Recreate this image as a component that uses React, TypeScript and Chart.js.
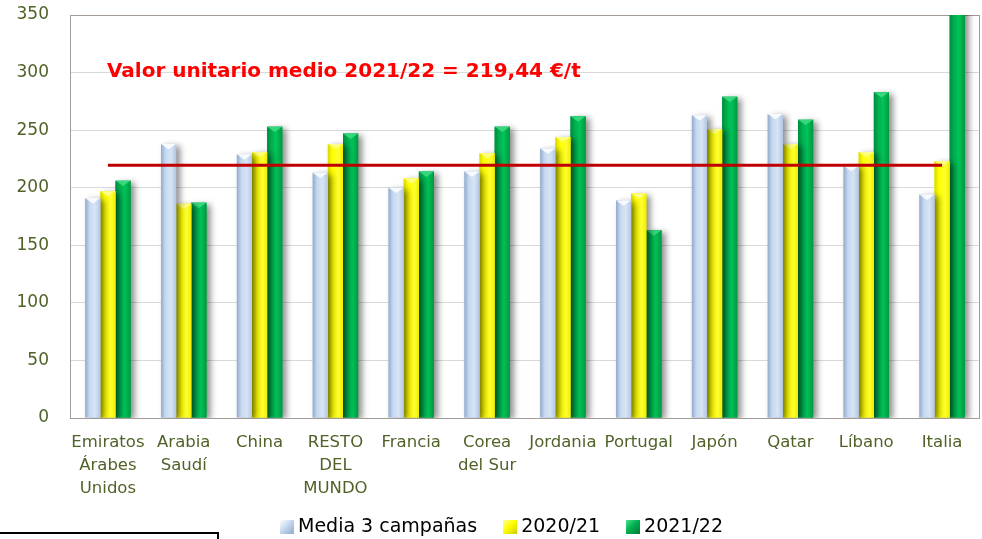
import React, { useEffect, useRef } from "react";
import { Chart, registerables } from "chart.js";

Chart.register(...registerables);

const categories: (string | string[])[] = [
  ["Emiratos", "Árabes", "Unidos"],
  ["Arabia", "Saudí"],
  "China",
  ["RESTO", "DEL", "MUNDO"],
  "Francia",
  ["Corea", "del Sur"],
  "Jordania",
  "Portugal",
  "Japón",
  "Qatar",
  "Líbano",
  "Italia",
];
const seriesNames = ["Media 3 campañas", "2020/21", "2021/22"];
const media3 = [191, 238, 229, 213, 200, 214, 234, 189, 263, 264, 219, 194];
const c2020 = [197, 186, 231, 238, 208, 230, 244, 195, 251, 238, 231, 223];
const c2021 = [206, 187, 253, 247, 214, 253, 262, 163, 279, 259, 283, 420];
const avgLine = [219.44, 219.44, 219.44, 219.44, 219.44, 219.44, 219.44, 219.44, 219.44, 219.44, 219.44, 219.44];
const avgTitle = "Valor unitario medio 2021/22 = 219,44 €/t";
const yMin = 0;
const yMax = 350;
const yStep = 50;

const FONT = "'DejaVu Sans', Verdana, sans-serif";
const AXIS_COLOR = "#4F6228";

const barStyles = [
  { solid: "#C6D9F1", stops: [[0, "#93AACB"], [0.3, "#C6D9F1"], [0.65, "#D8E4F4"], [1, "#B3C7E2"]], cap: "#FFFFFF" },
  { solid: "#FFFF00", stops: [[0, "#D8D800"], [0.3, "#FFFF00"], [0.7, "#FFFF30"], [1, "#EEEE00"]], cap: "#FFFF90" },
  { solid: "#00B050", stops: [[0, "#008A3E"], [0.3, "#00B050"], [0.6, "#00C45A"], [1, "#00983F"]], cap: "#3FDC85" },
];

const fxPlugin = {
  id: "fx",
  beforeDatasetsDraw(chart: any) {
    const { ctx, chartArea: a } = chart;
    ctx.save();
    ctx.strokeStyle = "#A39C96";
    ctx.lineWidth = 1;
    ctx.strokeRect(Math.round(a.left) + 0.5, Math.round(a.top) + 0.5, Math.round(a.right - a.left) - 1, Math.round(a.bottom - a.top));
    ctx.restore();
  },
  beforeDatasetDraw(chart: any, args: any) {
    if (args.meta.type !== "bar") return;
    const ctx = chart.ctx;
    ctx.save();
    ctx.shadowColor = "rgba(0,0,0,0.45)";
    ctx.shadowBlur = 6;
    ctx.shadowOffsetX = 4;
    ctx.shadowOffsetY = 2;
  },
  afterDatasetDraw(chart: any, args: any) {
    if (args.meta.type !== "bar") return;
    const ctx = chart.ctx;
    ctx.restore();
    const label = chart.data.datasets[args.index].label;
    const st = barStyles[seriesNames.indexOf(label)];
    if (!st) return;
    const a = chart.chartArea;
    ctx.save();
    ctx.beginPath();
    ctx.rect(a.left, a.top, a.right - a.left, a.bottom - a.top);
    ctx.clip();
    args.meta.data.forEach((el: any) => {
      const { x, y, base, width } = el.getProps(["x", "y", "base", "width"], true);
      const x0 = x - width / 2;
      const x1 = x + width / 2;
      const g = ctx.createLinearGradient(x0, 0, x1, 0);
      st.stops.forEach((s: any) => g.addColorStop(s[0], s[1]));
      ctx.fillStyle = g;
      ctx.fillRect(x0, y, width, base - y);
      ctx.beginPath();
      ctx.moveTo(x0, y);
      ctx.lineTo(x1, y);
      ctx.lineTo(x, y + width * 0.35);
      ctx.closePath();
      ctx.fillStyle = st.cap;
      ctx.globalAlpha = 0.85;
      ctx.fill();
      ctx.globalAlpha = 1;
    });
    ctx.restore();
  },
  afterDraw(chart: any) {
    const { ctx, scales } = chart;
    ctx.save();
    ctx.font = `bold 20px ${FONT}`;
    ctx.fillStyle = "#FF0000";
    ctx.textAlign = "left";
    ctx.textBaseline = "alphabetic";
    ctx.fillText(avgTitle, scales.x.getPixelForValue(0) - 1, scales.y.getPixelForValue(296));
    ctx.restore();
  },
};

export default function App() {
  const ref = useRef<HTMLCanvasElement>(null);
  useEffect(() => {
    const seriesData = [media3, c2020, c2021];
    const chart = new Chart(ref.current as HTMLCanvasElement, {
      type: "bar",
      data: {
        labels: categories,
        datasets: [
          {
            type: "line",
            label: "Media 2021/22",
            data: avgLine,
            borderColor: "#C00000",
            borderWidth: 3,
            pointRadius: 0,
            fill: false,
            order: 0,
          } as any,
          ...seriesData.map((d, i) => ({
            type: "bar",
            label: seriesNames[i],
            data: d,
            backgroundColor: barStyles[i].solid,
            barPercentage: 1,
            categoryPercentage: 0.6,
            order: 1,
          })),
        ],
      },
      options: {
        responsive: false,
        animation: false,
        devicePixelRatio: 1,
        layout: { padding: { top: 15, right: 2, left: 0, bottom: 0 } },
        plugins: {
          legend: { display: false },
          tooltip: { enabled: false },
        },
        scales: {
          x: {
            grid: { display: false, drawTicks: false, tickLength: 0 },
            border: { display: false },
            ticks: {
              color: AXIS_COLOR,
              font: { family: FONT, size: 16.5, lineHeight: 1.4 },
              padding: 13,
              maxRotation: 0,
              minRotation: 0,
              autoSkip: false,
            },
            afterFit: (s: any) => {
              s.height = 121;
            },
          },
          y: {
            min: yMin,
            max: yMax,
            ticks: {
              stepSize: yStep,
              color: AXIS_COLOR,
              font: { family: FONT, size: 17 },
              padding: 21,
            },
            grid: { color: "#D9D9D9", drawTicks: false, tickLength: 0 },
            border: { display: false },
            afterFit: (s: any) => {
              s.width = 70;
              s.paddingTop = 0;
              s.paddingBottom = 0;
            },
          },
        },
      } as any,
      plugins: [fxPlugin],
    });
    return () => chart.destroy();
  }, []);

  const legendBoxes = [
    "linear-gradient(135deg, #FFFFFF 0%, #C6D9F1 45%, #8FA8C8 100%)",
    "linear-gradient(135deg, #FFFFA0 0%, #FFFF00 45%, #CCCC00 100%)",
    "linear-gradient(135deg, #50E090 0%, #00B050 45%, #007A38 100%)",
  ];

  return (
    <div
      style={{
        position: "fixed",
        left: 0,
        top: 0,
        width: 982,
        height: 539,
        overflow: "hidden",
        background: "#FFFFFF",
      }}
    >
      <canvas
        ref={ref}
        width={982}
        height={539}
        style={{ position: "absolute", left: 0, top: 0, width: 982, height: 539 }}
      />
      <div
        style={{
          position: "absolute",
          left: 280,
          top: 513,
          display: "flex",
          alignItems: "center",
          height: 24,
          fontFamily: FONT,
          fontSize: 19,
          lineHeight: "24px",
          color: "#000000",
          whiteSpace: "nowrap",
        }}
      >
        {seriesNames.map((n, i) => (
          <div key={n} style={{ display: "flex", alignItems: "center", marginRight: 26 }}>
            <div
              style={{
                width: 14,
                height: 14,
                marginTop: 3,
                marginRight: 4,
                background: legendBoxes[i],
              }}
            />
            <span>{n}</span>
          </div>
        ))}
      </div>
      <div
        style={{
          position: "absolute",
          left: -3,
          top: 532,
          width: 218,
          height: 20,
          border: "2px solid #000000",
        }}
      />
    </div>
  );
}
